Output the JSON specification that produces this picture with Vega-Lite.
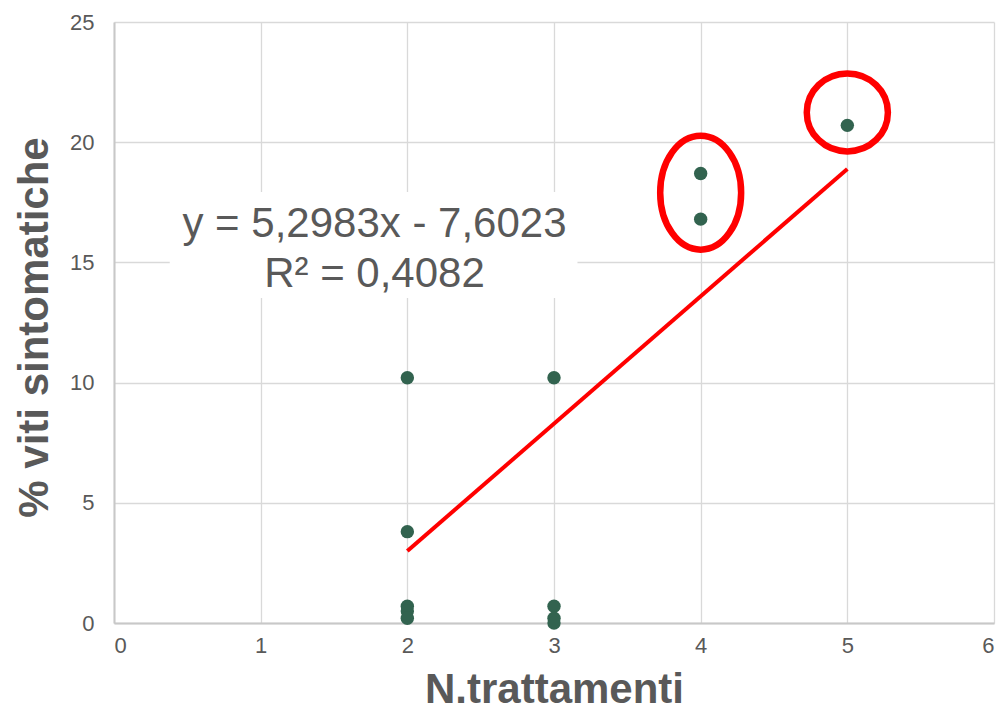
{
  "$schema": "https://vega.github.io/schema/vega-lite/v6.json",
  "width": 880,
  "height": 601,
  "autosize": {"type": "none"},
  "padding": {"left": 114, "top": 22, "right": 11, "bottom": 96},
  "background": "white",
  "config": {
    "view": {"stroke": null},
    "axis": {
      "labelFont": "Liberation Sans",
      "titleFont": "Liberation Sans",
      "labelColor": "#595959",
      "titleColor": "#595959",
      "labelFontSize": 22,
      "titleFontSize": 42,
      "titleFontWeight": "bold",
      "gridColor": "#d9d9d9",
      "gridWidth": 1.3,
      "domainColor": "#c8c8c8",
      "domainWidth": 2,
      "ticks": false
    }
  },
  "datasets": {
    "points": [
      {"n": 2, "pct": 10.2},
      {"n": 2, "pct": 3.8},
      {"n": 2, "pct": 0.7},
      {"n": 2, "pct": 0.5},
      {"n": 2, "pct": 0.2},
      {"n": 3, "pct": 10.2},
      {"n": 3, "pct": 0.7},
      {"n": 3, "pct": 0.2},
      {"n": 3, "pct": 0.0},
      {"n": 4, "pct": 18.7},
      {"n": 4, "pct": 16.8},
      {"n": 5, "pct": 20.7}
    ],
    "trend": [
      {"n": 2, "pct": 2.994},
      {"n": 5, "pct": 18.889}
    ],
    "box": [
      {"n": 0.38, "n2": 3.16, "pct": 13.52, "pct2": 17.93}
    ],
    "label": [
      {"n": 1.776, "pct": 16.06, "txt": "y = 5,2983x - 7,6023\nR² = 0,4082"}
    ],
    "ellipse": [
      {"n": 4, "pct": 17.9}
    ],
    "circle": [
      {"n": 5, "pct": 21.24}
    ]
  },
  "layer": [
    {
      "data": {"name": "box"},
      "mark": {"type": "rect", "fill": "white"},
      "encoding": {
        "x": {
          "field": "n", "type": "quantitative",
          "scale": {"domain": [0, 6], "nice": false, "zero": false},
          "axis": {"values": [0, 1, 2, 3, 4, 5, 6], "format": "d", "title": "N.trattamenti", "labelPadding": 12, "titlePadding": 13, "grid": true}
        },
        "x2": {"field": "n2"},
        "y": {
          "field": "pct", "type": "quantitative",
          "scale": {"domain": [0, 25], "nice": false, "zero": false},
          "axis": {"values": [0, 5, 10, 15, 20, 25], "format": "d", "title": "% viti sintomatiche", "labelPadding": 20, "titlePadding": 13, "titleY": 305, "grid": true}
        },
        "y2": {"field": "pct2"}
      }
    },
    {
      "data": {"name": "trend"},
      "mark": {"type": "line", "color": "#ff0000", "strokeWidth": 4},
      "encoding": {
        "x": {"field": "n", "type": "quantitative"},
        "y": {"field": "pct", "type": "quantitative"}
      }
    },
    {
      "data": {"name": "points"},
      "mark": {"type": "point", "filled": true, "color": "#32634f", "size": 180, "opacity": 1},
      "encoding": {
        "x": {"field": "n", "type": "quantitative"},
        "y": {"field": "pct", "type": "quantitative"}
      }
    },
    {
      "data": {"name": "ellipse"},
      "mark": {
        "type": "point",
        "shape": "M -0.71 0 A 0.71 1 0 1 0 0.71 0 A 0.71 1 0 1 0 -0.71 0 Z",
        "filled": false,
        "stroke": "#ff0000",
        "strokeWidth": 6.5,
        "size": 12996,
        "opacity": 1
      },
      "encoding": {
        "x": {"field": "n", "type": "quantitative"},
        "y": {"field": "pct", "type": "quantitative"}
      }
    },
    {
      "data": {"name": "circle"},
      "mark": {
        "type": "point",
        "shape": "M -1.04 0 A 1.04 1 0 1 0 1.04 0 A 1.04 1 0 1 0 -1.04 0 Z",
        "filled": false,
        "stroke": "#ff0000",
        "strokeWidth": 6.5,
        "size": 6084,
        "opacity": 1
      },
      "encoding": {
        "x": {"field": "n", "type": "quantitative"},
        "y": {"field": "pct", "type": "quantitative"}
      }
    },
    {
      "data": {"name": "label"},
      "mark": {
        "type": "text",
        "font": "Liberation Sans",
        "fontSize": 42,
        "color": "#595959",
        "align": "center",
        "baseline": "alphabetic",
        "lineBreak": "\n",
        "lineHeight": 50
      },
      "encoding": {
        "x": {"field": "n", "type": "quantitative"},
        "y": {"field": "pct", "type": "quantitative"},
        "text": {"field": "txt"}
      }
    }
  ]
}
